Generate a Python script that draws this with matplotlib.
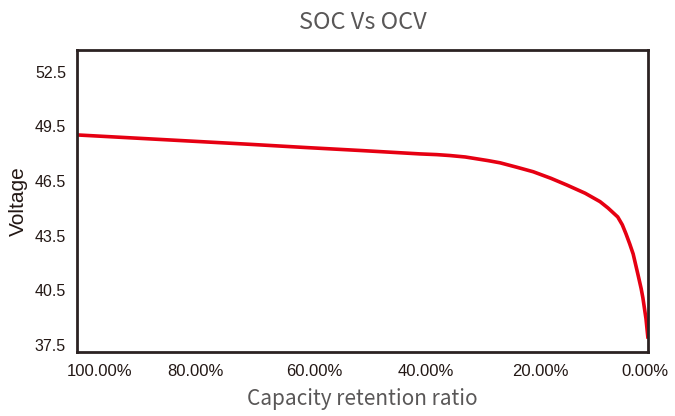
import matplotlib
matplotlib.use("Agg")
import matplotlib.pyplot as plt

# capacity retention (%) vs open circuit voltage
capacity = [100, 90, 80, 70, 60, 50, 45, 40, 37, 34.7, 32, 30, 28, 25.9, 23, 20.1, 17,
            14.2, 11, 8.4, 7, 5.3, 4.5, 3.85, 3.2, 2.6, 1.75, 1.2, 0.9, 0.35, 0]
voltage = [49.03, 48.86, 48.69, 48.52, 48.34, 48.17, 48.08, 47.99, 47.95, 47.90, 47.82,
           47.72, 47.62, 47.50, 47.26, 47.01, 46.65, 46.28, 45.83, 45.37, 45.02, 44.53,
           44.10, 43.60, 43.05, 42.50, 41.36, 40.60, 40.10, 38.94, 37.85]

xtick_labels = ['100.00%', '80.00%', '60.00%', '40.00%', '20.00%', '0.00%']
ytick_values = [37.5, 40.5, 43.5, 46.5, 49.5, 52.5]

# where the labels sit under the frame (not evenly spaced in the original)
xtick_pos = [96.1, 79.3, 58.5, 38.9, 18.9, 0.5]

fig = plt.figure(figsize=(6.75, 4.16), dpi=100)
ax = fig.add_axes([77 / 675, 1 - 352 / 416, 571 / 675, 302 / 416])

ax.plot(capacity, voltage, color='#e60012', linewidth=2.6, solid_capstyle='butt')

ax.set_xlim(100, 0)
ax.set_ylim(37.12, 53.69)

ax.set_xticks(xtick_pos)
ax.set_xticklabels(xtick_labels)
ax.set_yticks(ytick_values)
ax.set_yticklabels([str(v) for v in ytick_values])
ax.tick_params(axis='both', length=0, colors='#231815')
ax.tick_params(axis='x', pad=9, labelsize=12)
ax.tick_params(axis='y', pad=8, labelsize=11.5)
for lab in ax.get_xticklabels() + ax.get_yticklabels():
    lab.set_family('Liberation Sans')

for s in ax.spines.values():
    s.set_color('#2b2222')
    s.set_linewidth(2)

ax.set_title('SOC Vs OCV', family='Noto Sans CJK SC', fontsize=17, color='#595757', pad=15)
ax.set_xlabel('Capacity retention ratio', family='Noto Sans CJK SC', fontsize=15,
              color='#595757', labelpad=6)
ax.set_ylabel('Voltage', family='Liberation Sans', fontsize=15, color='#231815', labelpad=5)

fig.savefig('out.png', dpi=100)
